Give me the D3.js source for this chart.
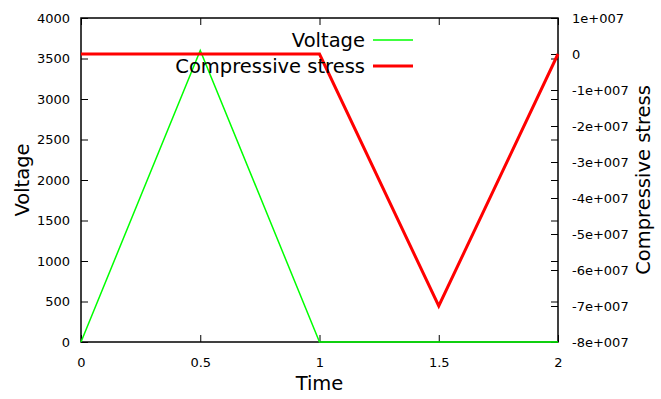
<!DOCTYPE html>
<html>
<head>
<meta charset="utf-8">
<script src="https://cdn.jsdelivr.net/npm/d3@7"></script>
<style>
  html, body { margin: 0; padding: 0; background: #fff; overflow: hidden; }
  svg { display: block; }
</style>
</head>
<body>
<div id="viz"></div>
<script>
// data
var voltageTime = [0, 0.5, 1, 2];
var voltageValues = [0, 3600, 0, 0];
var stressTime = [0, 1, 1.5, 2];
var stressValues = [0, 0, -7e7, 0];

var xTicks = [0, 0.5, 1, 1.5, 2];
var xTickLabels = ["0", "0.5", "1", "1.5", "2"];
var yTicks = [0, 500, 1000, 1500, 2000, 2500, 3000, 3500, 4000];
var y2Ticks = [1e7, 0, -1e7, -2e7, -3e7, -4e7, -5e7, -6e7, -7e7, -8e7];
var y2TickLabels = ["1e+007", "0", "-1e+007", "-2e+007", "-3e+007", "-4e+007",
                    "-5e+007", "-6e+007", "-7e+007", "-8e+007"];

var width = 661, height = 399;
var margin = { top: 18, bottom: 57, left: 81, right: 103 };
var innerWidth = width - margin.left - margin.right;
var innerHeight = height - margin.top - margin.bottom;
var fontFamily = "DejaVu Sans, Verdana, sans-serif";

var svg = d3.select("#viz").append("svg")
    .attr("width", width)
    .attr("height", height)
    .attr("font-family", fontFamily);

var g = svg.append("g")
    .attr("transform", "translate(" + margin.left + "," + margin.top + ")");

var xScale = d3.scaleLinear().domain([0, 2]).range([0, innerWidth]);
var yScale = d3.scaleLinear().domain([0, 4000]).range([innerHeight, 0]);
var y2Scale = d3.scaleLinear().domain([-8e7, 1e7]).range([innerHeight, 0]);

// axes, ticks pointing inwards like gnuplot
var xAxis = d3.axisBottom(xScale).tickValues(xTicks)
    .tickFormat(function(d, i) { return xTickLabels[i]; })
    .tickSizeInner(-7).tickSizeOuter(0).tickPadding(16);
var xAxisTop = d3.axisTop(xScale).tickValues(xTicks)
    .tickSizeInner(-7).tickSizeOuter(0);
var yAxis = d3.axisLeft(yScale).tickValues(yTicks)
    .tickFormat(d3.format("d")).tickSizeInner(-7).tickSizeOuter(0).tickPadding(11);
var yAxisMirror = d3.axisRight(yScale).tickValues(yTicks)
    .tickSizeInner(-7).tickSizeOuter(0);
var y2Axis = d3.axisRight(y2Scale).tickValues(y2Ticks)
    .tickFormat(function(d, i) { return y2TickLabels[i]; })
    .tickSizeInner(-7).tickSizeOuter(0).tickPadding(14);

function styleAxis(sel) {
    sel.attr("font-size", 13).attr("font-family", fontFamily);
    sel.select(".domain").remove();
    sel.selectAll(".tick line").attr("stroke", "#000").attr("stroke-width", 1);
    sel.selectAll(".tick text").attr("fill", "#000");
}
function noLabels(sel) {
    sel.selectAll(".tick text").remove();
}

g.append("g").attr("transform", "translate(0," + innerHeight + ")").call(xAxis).call(styleAxis);
g.append("g").call(xAxisTop).call(styleAxis).call(noLabels);
g.append("g").call(yAxis).call(styleAxis);
g.append("g").attr("transform", "translate(" + innerWidth + ",0)").call(yAxisMirror).call(styleAxis).call(noLabels);
g.append("g").attr("transform", "translate(" + innerWidth + ",0)").call(y2Axis).call(styleAxis);

// border
g.append("rect")
    .attr("x", 0).attr("y", 0)
    .attr("width", innerWidth).attr("height", innerHeight)
    .attr("fill", "none").attr("stroke", "#000").attr("stroke-width", 1.5);

var vData = voltageTime.map(function(t, i) { return [t, voltageValues[i]]; });
var sData = stressTime.map(function(t, i) { return [t, stressValues[i]]; });

var vLine = d3.line().x(function(d) { return xScale(d[0]); }).y(function(d) { return yScale(d[1]); });
var sLine = d3.line().x(function(d) { return xScale(d[0]); }).y(function(d) { return y2Scale(d[1]); });

g.append("path").datum(vData).attr("d", vLine)
    .attr("fill", "none").attr("stroke", "#00ff00").attr("stroke-width", 1.5);
g.append("path").datum(sData).attr("d", sLine)
    .attr("fill", "none").attr("stroke", "#ff0000").attr("stroke-width", 3);

// legend
var legend = [
    { name: "Voltage", color: "#00ff00", w: 1.5, y: 22 },
    { name: "Compressive stress", color: "#ff0000", w: 3, y: 48 }
];
legend.forEach(function(l) {
    g.append("text")
        .attr("x", 284).attr("y", l.y)
        .attr("text-anchor", "end")
        .attr("dy", "0.35em")
        .attr("font-size", 19.5)
        .text(l.name);
    g.append("line")
        .attr("x1", 292).attr("x2", 332)
        .attr("y1", l.y).attr("y2", l.y)
        .attr("stroke", l.color).attr("stroke-width", l.w);
});

// axis labels
svg.append("text")
    .attr("x", margin.left + innerWidth / 2).attr("y", 390)
    .attr("text-anchor", "middle")
    .attr("font-size", 19.5)
    .text("Time");

svg.append("text")
    .attr("transform", "translate(29," + (margin.top + innerHeight / 2) + ") rotate(-90)")
    .attr("text-anchor", "middle")
    .attr("font-size", 19.5)
    .text("Voltage");

svg.append("text")
    .attr("transform", "translate(643," + (margin.top + innerHeight / 2) + ") rotate(-90)")
    .attr("text-anchor", "middle")
    .attr("dy", "0.35em")
    .attr("font-size", 19.5)
    .text("Compressive stress");
</script>
</body>
</html>
